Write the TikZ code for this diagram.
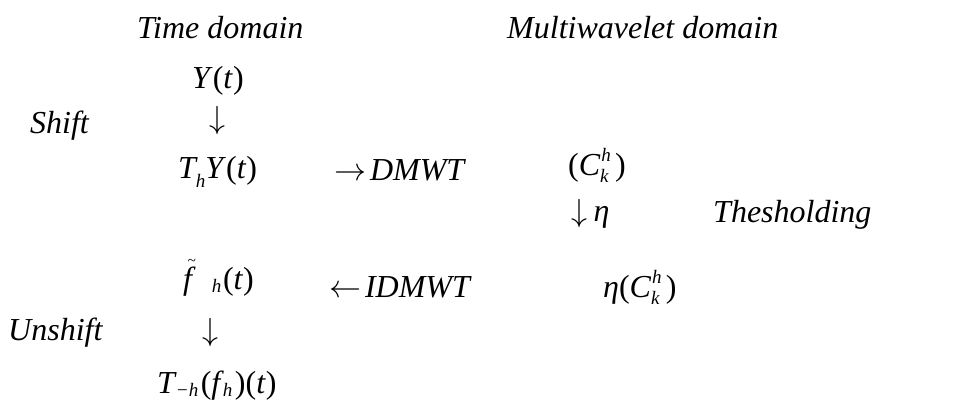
\documentclass[tikz,border=0pt]{standalone}
\usepackage{fontspec}
\setmainfont{Liberation Serif}
\DeclareFontShape{OMS}{cmsy}{m}{n}{<->cmsy10}{}
\newcommand\pU[1]{\textup{#1}}
\newcommand\smallit{\fontsize{19}{19}\selectfont\itshape}
\newcommand\lowsub[2]{\raisebox{-#1}{\smallit #2}}
\newcommand\Ckh{C\rlap{\raisebox{0.42em}{\smallit\kern0.06em h}}\raisebox{-0.22em}{\smallit k}\kern0.2em}
\newcommand\arrowglyph[1]{$#1$}
\tikzset{
  lbl/.style={inner sep=0pt, anchor=base west, font=\fontsize{32}{36}\selectfont\itshape},
  arr/.style={inner sep=0pt, anchor=base, font=\fontsize{32}{36}\selectfont}
}
\begin{document}
\begin{tikzpicture}[x=1pt,y=-1pt]
\useasboundingbox (0,0) rectangle (966,399);
% headings
\node[lbl] (time) at (137,38) {Time domain};
\node[lbl] (multi) at (507,38) {Multiwavelet domain};
% time column
\node[lbl] (Y) at (192,88) {Y\pU{(}t\pU{)}};
\node[arr] (down1) at (217,128) {\arrowglyph{\downarrow}};
\node[lbl] (shift) at (30,133) {Shift};
\node[lbl] (ThY) at (178,178) {T\lowsub{0.3em}{h}Y\pU{(}t\pU{)}};
\node[lbl] (dmwt) at (334,180) {\arrowglyph{\rightarrow}\kern0.12em DMWT};
% multiwavelet column
\node[lbl] (C) at (568,175) {\pU{(}\Ckh\pU{)}};
\node[lbl] (down2) at (571,221) {\arrowglyph{\downarrow}\kern0.2em η};
\node[lbl] (thr) at (713,222) {Thesholding};
\node[lbl] (etaC) at (603,297) {η\pU{(}\Ckh\pU{)}};
% return
\node[lbl] (idmwt) at (329,297) {\arrowglyph{\leftarrow}\kern0.12em IDMWT};
\node[lbl] (ft) at (183,289) {\rlap{\raisebox{0.72em}{\kern0.14em\fontsize{15}{15}\selectfont\textasciitilde}}f\kern0.62em\lowsub{0.12em}{h}\kern0.05em\pU{(}t\pU{)}};
\node[lbl] (unshift) at (8,340) {Unshift};
\node[arr] (down3) at (210,340) {\arrowglyph{\downarrow}};
\node[lbl] (Tf) at (157,393) {T\lowsub{0.12em}{\kern0.05em−h}\kern0.08em\pU{(}f\kern0.08em\lowsub{0.12em}{h}\kern0.08em\pU{)(}t\pU{)}};
\end{tikzpicture}
\end{document}
